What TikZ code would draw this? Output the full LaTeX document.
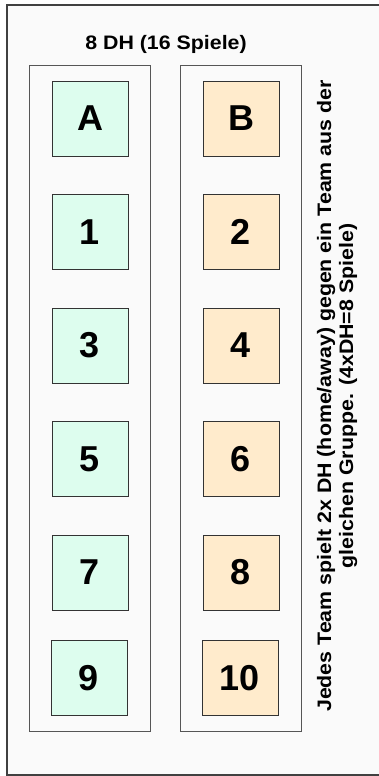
\documentclass[tikz,border=0pt]{standalone}
\usepackage{fontspec}
\usepackage{graphicx}
\setmainfont{Liberation Sans}
\definecolor{bgc}{HTML}{FAFAFA}
\definecolor{greenf}{HTML}{DDFDEE}
\definecolor{orangef}{HTML}{FFEBCC}
\definecolor{framec}{HTML}{555555}
\newcommand{\wide}[1]{\scalebox{1.095}[1]{#1}}
\begin{document}
\begin{tikzpicture}[x=1pt,y=-1pt,
  groupbox/.style={draw=framec,fill=bgc,line width=1pt},
  team/.style={draw=black!80,line width=0.8pt,minimum width=76pt,minimum height=75pt,inner sep=0pt,font=\fontsize{36}{40}\selectfont\bfseries},
  teamg/.style={team,fill=greenf},
  teamo/.style={team,fill=orangef}]
\useasboundingbox (0,0) rectangle (379,776);
\fill[white] (0,0) rectangle (379,776);
\draw[draw=black!75,fill=bgc,line width=1.2pt] (7,5) rectangle (382,775);
\node[font=\fontsize{19.5}{22}\selectfont\bfseries] (title) at (166,44) {\wide{8 DH (16 Spiele)}};
\draw[groupbox] (29,66) rectangle (150,731);
\draw[groupbox] (180,66) rectangle (301,731);
\node[teamg] (A) at (90,118.5) {A};
\node[teamg] (n1) at (90,232) {1};
\node[teamg] (n3) at (90,345.5) {3};
\node[teamg] (n5) at (90,459) {5};
\node[teamg] (n7) at (90,572.5) {7};
\node[teamg] (n9) at (89,678) {9};
\node[teamo] (B) at (241,118.5) {B};
\node[teamo] (n2) at (241,232) {2};
\node[teamo] (n4) at (241,345.5) {4};
\node[teamo] (n6) at (241,459) {6};
\node[teamo] (n8) at (241,572.5) {8};
\node[teamo] (n10) at (240,678) {10};
\node[rotate=90,align=center,font=\fontsize{19.5}{22}\selectfont\bfseries,inner sep=0pt] (note) at (337,396) {\wide{Jedes Team spielt 2x DH (home/away) gegen ein Team aus der}\\\wide{gleichen Gruppe. (4xDH=8 Spiele)}};
\end{tikzpicture}
\end{document}
